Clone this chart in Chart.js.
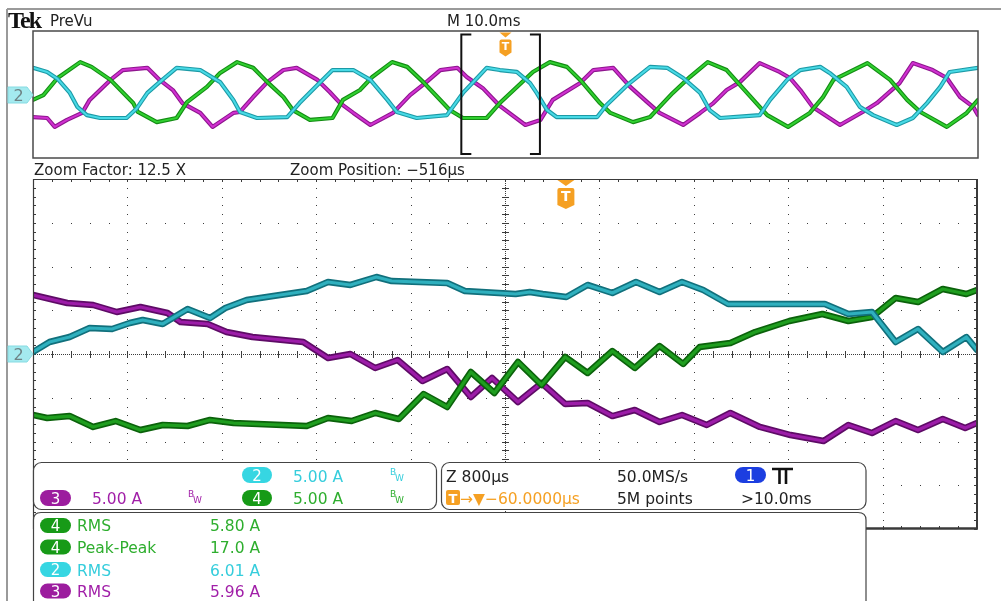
<!DOCTYPE html>
<html>
<head>
<meta charset="utf-8">
<title>Tek PreVu – phase currents</title>
<script src="https://cdn.jsdelivr.net/npm/chart.js@4.4.1/dist/chart.umd.min.js"></script>
<style>
  html, body { margin: 0; padding: 0; background: #fff; }
  #scope { position: relative; width: 1001px; height: 601px; overflow: hidden; background: #fff; }
  #scope canvas, #scope svg { position: absolute; left: 0; top: 0; }
  svg text { font-family: "DejaVu Sans", "Noto Sans", sans-serif; }
</style>
</head>
<body>
<div id="scope">
  <canvas id="preview" width="1001" height="601"></canvas>
  <canvas id="zoom" width="1001" height="601"></canvas>
  <svg id="chrome" width="1001" height="601" xmlns="http://www.w3.org/2000/svg">
    <!-- screen frame -->
    <line x1="7" y1="9" x2="1001" y2="9" stroke="#9a9a9a" stroke-width="2"/>
    <line x1="7" y1="9" x2="7" y2="601" stroke="#9a9a9a" stroke-width="2"/>

    <!-- header -->
    <text x="8" y="28" font-size="24" font-weight="bold" fill="#111" style="font-family:'Liberation Serif',serif" letter-spacing="-1.8">Tek</text>
    <text x="50" y="26" font-size="15" fill="#222">PreVu</text>
    <text x="447" y="26" font-size="15" fill="#222">M 10.0ms</text>

    <!-- channel 2 ground markers -->
    <path d="M8 87 H27 L33 95 L27 103 H8 Z" fill="#a4eaef" stroke="#86dbe2" stroke-width="1"/>
    <text x="18.5" y="101" font-size="16" fill="#6e8385" text-anchor="middle">2</text>
    <path d="M8 346 H27 L33 354 L27 362 H8 Z" fill="#a4eaef" stroke="#86dbe2" stroke-width="1"/>
    <text x="18.5" y="360" font-size="16" fill="#6e8385" text-anchor="middle">2</text>

    <!-- zoom readout -->
    <text x="34" y="175" font-size="15" fill="#222">Zoom Factor: 12.5 X</text>
    <text x="290" y="175" font-size="15" fill="#222">Zoom Position: −516µs</text>

    <!-- vertical settings -->
    <rect x="33.5" y="462.5" width="403" height="47" rx="8" fill="#fff" stroke="#444" stroke-width="1.2"/>
    <rect x="242" y="467" width="30" height="16" rx="8" fill="#36d6e2"/>
    <text x="257" y="481" font-size="15" fill="#fff" text-anchor="middle">2</text>
    <text x="293" y="482" font-size="15.5" fill="#35cddc">5.00 A</text>
    <text x="390" y="475" font-size="9" fill="#35cddc">B</text>
    <text x="395" y="481" font-size="9" fill="#35cddc">W</text>

    <rect x="40" y="490" width="31" height="16" rx="8" fill="#9c1c9e"/>
    <text x="55.5" y="504" font-size="15" fill="#fff" text-anchor="middle">3</text>
    <text x="92" y="504" font-size="15.5" fill="#a11fa8">5.00 A</text>
    <text x="188" y="497" font-size="9" fill="#a11fa8">B</text>
    <text x="193" y="503" font-size="9" fill="#a11fa8">W</text>

    <rect x="242" y="490" width="30" height="16" rx="8" fill="#179a17"/>
    <text x="257" y="504" font-size="15" fill="#fff" text-anchor="middle">4</text>
    <text x="293" y="504" font-size="15.5" fill="#2eae2e">5.00 A</text>
    <text x="390" y="497" font-size="9" fill="#2eae2e">B</text>
    <text x="395" y="503" font-size="9" fill="#2eae2e">W</text>

    <!-- horizontal / trigger settings -->
    <rect x="441.5" y="462.5" width="424.5" height="47" rx="8" fill="#fff" stroke="#444" stroke-width="1.2"/>
    <text x="446" y="482" font-size="15.5" fill="#222">Z 800µs</text>
    <text x="617" y="482" font-size="15.5" fill="#222">50.0MS/s</text>
    <rect x="735" y="467" width="31" height="16" rx="8" fill="#1c3ee0"/>
    <text x="750.5" y="481" font-size="15" fill="#fff" text-anchor="middle">1</text>
    <path d="M772 469 H793 M779.5 469 V484 M786 469 V484" stroke="#111" stroke-width="2.6" fill="none"/>
    <rect x="446" y="490" width="14" height="15" rx="2" fill="#f5a023"/>
    <text x="453" y="503" font-size="13" font-weight="bold" fill="#fff" text-anchor="middle">T</text>
    <text x="460" y="504" font-size="15.5" fill="#f5a023">→▼−60.0000µs</text>
    <text x="617" y="504" font-size="15.5" fill="#222">5M points</text>
    <text x="741" y="504" font-size="15.5" fill="#222">&gt;10.0ms</text>

    <!-- measurements -->
    <path d="M33.5 601 V520 Q33.5 512.5 41 512.5 H858 Q866 512.5 866 520 V601" fill="#fff" stroke="#444" stroke-width="1.2"/>
    <rect x="40" y="518" width="31" height="15" rx="7.5" fill="#179a17"/>
    <text x="55.5" y="531" font-size="15" fill="#fff" text-anchor="middle">4</text>
    <text x="77" y="531" font-size="15.5" fill="#2eae2e">RMS</text>
    <text x="210" y="531" font-size="15.5" fill="#2eae2e">5.80 A</text>

    <rect x="40" y="539.5" width="31" height="15" rx="7.5" fill="#179a17"/>
    <text x="55.5" y="552.5" font-size="15" fill="#fff" text-anchor="middle">4</text>
    <text x="77" y="553" font-size="15.5" fill="#2eae2e">Peak-Peak</text>
    <text x="210" y="553" font-size="15.5" fill="#2eae2e">17.0 A</text>

    <rect x="40" y="562" width="31" height="15" rx="7.5" fill="#36d6e2"/>
    <text x="55.5" y="575" font-size="15" fill="#fff" text-anchor="middle">2</text>
    <text x="77" y="575.5" font-size="15.5" fill="#35cddc">RMS</text>
    <text x="210" y="575.5" font-size="15.5" fill="#35cddc">6.01 A</text>

    <rect x="40" y="583.5" width="31" height="15" rx="7.5" fill="#9c1c9e"/>
    <text x="55.5" y="596.5" font-size="15" fill="#fff" text-anchor="middle">3</text>
    <text x="77" y="597" font-size="15.5" fill="#a11fa8">RMS</text>
    <text x="210" y="597" font-size="15.5" fill="#a11fa8">5.96 A</text>
  </svg>
</div>

<script>
// ---- acquisition settings ----
const recordMs = 100;          // M 10.0 ms/div, 10 divisions
const triggerAtMs = 50;        // trigger in the middle of the record
const zoomPositionMs = -0.516; // zoom centre relative to trigger
const zoomSpanMs = 8;          // Z 800 µs/div, 10 divisions
const ampsPerDiv = 5;          // all current channels at 5.00 A/div
const vDivs = 8, hDivs = 10;

// ---- preview record (time in ms from record start, current in A) ----
const pvTimeCh4 = [0, 1.1, 2.6, 5.0, 6.2, 8.2, 10.6, 11.1, 13.1, 15.2, 16.3, 18.4, 19.8, 21.6, 23.3, 24.8, 26.5, 27.5, 29.3, 31.7, 32.8, 34.6, 35.9, 38.0, 39.6, 41.3, 42.8, 44.1, 45.5, 48.0, 49.4, 52.9, 54.7, 56.5, 57.9, 60.0, 61.1, 63.5, 65.3, 66.3, 67.7, 69.5, 71.4, 73.4, 74.8, 76.9, 77.7, 79.9, 82.2, 83.6, 84.7, 88.3, 90.7, 92.5, 93.9, 96.7, 98.8, 100];
const pvCh4 = [-1.7, -0.2, 5.2, 10.2, 8.7, 4.6, -2.7, -5.5, -8.7, -7.4, -2.4, 2.4, 6.8, 10.2, 8.4, 3.9, -0.8, -4.9, -8.0, -7.4, -1.7, 1.4, 5.5, 10.2, 8.7, 3.9, -0.8, -4.9, -7.4, -7.4, -2.7, 7.1, 10.2, 8.7, 4.6, -2.7, -5.8, -8.7, -7.1, -3.9, 0.5, 5.5, 10.2, 7.7, 3.0, -3.9, -6.5, -10.2, -5.8, -0.8, 4.6, 9.9, 4.6, -1.7, -5.5, -10.2, -5.8, -1.7];

const pvTimeCh3 = [0, 1.5, 2.3, 3.6, 5.2, 6.0, 8.2, 9.5, 12.1, 13.4, 14.8, 15.8, 17.7, 19.0, 21.2, 21.9, 23.3, 24.8, 26.5, 27.9, 30.1, 31.4, 32.5, 33.9, 35.7, 38.1, 39.9, 41.5, 43.1, 44.9, 45.9, 47.6, 49.4, 52.1, 53.7, 55.0, 57.9, 59.3, 61.4, 63.2, 65.0, 66.3, 68.8, 70.6, 72.0, 73.4, 74.8, 76.9, 79.0, 80.1, 81.2, 82.5, 85.4, 87.8, 89.3, 91.7, 93.1, 95.2, 96.7, 98.1, 99.5, 100];
const pvCh3 = [-7.1, -7.4, -10.2, -8.0, -5.8, -1.7, 4.6, 7.7, 8.4, 4.6, 1.4, -2.7, -5.8, -10.2, -5.8, -5.5, -0.8, 3.9, 7.7, 8.4, 4.6, 0.8, -2.7, -5.8, -9.6, -5.8, -0.2, 3.6, 7.7, 8.4, 5.5, 2.0, -3.6, -9.6, -8.0, -1.7, 3.6, 7.7, 8.4, 2.4, -2.4, -5.8, -9.6, -5.8, -2.7, 1.4, 3.9, 9.9, 7.1, 5.2, 1.4, -3.9, -9.6, -5.5, -2.7, 3.6, 9.9, 7.7, 5.2, -0.8, -3.9, -6.5];

const pvTimeCh2 = [0, 1.5, 2.6, 3.9, 4.7, 5.7, 7.1, 9.9, 11.0, 12.1, 13.4, 15.2, 17.7, 19.8, 21.2, 21.9, 23.7, 26.9, 28.2, 30.1, 31.7, 33.9, 35.7, 37.5, 38.5, 40.6, 43.8, 45.5, 47.0, 48.0, 49.4, 51.2, 52.6, 53.3, 54.4, 55.4, 59.7, 60.7, 62.9, 65.3, 67.1, 68.8, 70.6, 71.6, 72.7, 76.9, 78.0, 79.8, 81.2, 83.3, 84.3, 86.1, 87.5, 88.9, 91.4, 93.1, 94.6, 96.0, 97.0, 100];
const pvCh2 = [8.4, 7.1, 4.9, 0.5, -3.9, -6.5, -7.4, -7.4, -4.3, 0.5, 3.9, 8.4, 7.7, 3.9, -1.7, -5.5, -7.4, -7.1, -2.7, 3.0, 7.7, 7.7, 4.6, -1.7, -5.5, -7.4, -6.5, 0.5, 5.2, 8.4, 7.7, 7.1, 3.6, 0.5, -4.9, -7.1, -7.1, -3.3, 3.0, 8.7, 8.4, 5.2, 0.5, -4.9, -7.4, -6.5, -1.7, 4.6, 7.7, 8.7, 6.8, 2.4, -3.9, -6.5, -9.6, -7.4, -2.7, 2.4, 7.1, 8.4];

// ---- zoom window (time in ms from window start, current in A) ----
const zmTimeCh3 = [0, 0.29, 0.51, 0.71, 0.91, 1.14, 1.25, 1.48, 1.64, 1.86, 2.29, 2.50, 2.69, 2.90, 3.09, 3.30, 3.51, 3.71, 3.89, 4.11, 4.31, 4.51, 4.70, 4.91, 5.10, 5.31, 5.50, 5.71, 5.91, 6.16, 6.42, 6.70, 6.91, 7.11, 7.31, 7.50, 7.71, 7.90, 8.00];
const zmCh3 = [6.74, 5.83, 5.6, 4.8, 5.37, 4.69, 3.66, 3.43, 2.51, 1.94, 1.37, -0.46, 0, -1.6, -0.69, -3.09, -1.71, -4.91, -2.74, -5.49, -3.31, -5.71, -5.6, -7.09, -6.4, -7.77, -6.97, -8.11, -6.74, -8.34, -9.26, -9.94, -8.11, -9.03, -7.66, -8.69, -7.43, -8.46, -7.89];

const zmTimeCh4 = [0, 0.12, 0.31, 0.51, 0.70, 0.91, 1.10, 1.31, 1.50, 1.70, 2.32, 2.50, 2.70, 2.90, 3.10, 3.31, 3.51, 3.71, 3.91, 4.11, 4.31, 4.51, 4.70, 4.91, 5.10, 5.31, 5.51, 5.65, 5.91, 6.12, 6.41, 6.69, 6.91, 7.11, 7.31, 7.50, 7.71, 7.91, 8.00];
const zmCh4 = [-6.97, -7.31, -7.09, -8.34, -7.66, -8.69, -8.11, -8.23, -7.54, -7.89, -8.23, -7.31, -7.66, -6.74, -7.43, -4.57, -6.06, -2.06, -4.46, -0.91, -3.54, -0.34, -2.17, 0.34, -1.6, 0.91, -1.14, 0.8, 1.26, 2.51, 3.77, 4.57, 3.77, 4.23, 6.4, 5.94, 7.43, 6.86, 7.31];

const zmTimeCh2 = [0, 0.14, 0.31, 0.48, 0.67, 0.82, 0.93, 1.10, 1.31, 1.50, 1.63, 1.81, 2.32, 2.50, 2.69, 2.91, 3.04, 3.51, 3.66, 4.09, 4.21, 4.32, 4.52, 4.70, 4.91, 5.11, 5.31, 5.50, 5.68, 5.89, 6.71, 6.91, 7.11, 7.31, 7.50, 7.71, 7.91, 8.00];
const zmCh2 = [0.23, 1.37, 1.94, 2.97, 2.86, 3.54, 3.89, 3.43, 5.14, 4.11, 5.26, 6.17, 7.2, 8.23, 7.89, 8.8, 8.34, 8.11, 7.2, 6.86, 7.09, 6.86, 6.51, 7.89, 6.97, 8.23, 7.09, 8.23, 7.31, 5.71, 5.71, 4.57, 4.8, 1.37, 2.86, 0.23, 1.94, 0.46];

// ---- drawing helpers ----
const TRIGGER_ORANGE = '#f5a023';
const fullScale = ampsPerDiv * vDivs / 2;

function zip(ts, vs) { return ts.map((t, i) => ({ x: t, y: vs[i] })); }

// each channel is drawn as a dark halo plus a bright core, like a phosphor trace
function traceSets(channels, haloW, coreW) {
  const sets = [];
  channels.forEach((c, i) => {
    const pts = zip(c.t, c.v);
    const base = 2 * (channels.length - i);
    sets.push({ data: pts, borderColor: c.halo, borderWidth: haloW, order: base,
                borderJoinStyle: 'round', borderCapStyle: 'round' });
    sets.push({ data: pts, borderColor: c.core, borderWidth: coreW, order: base - 1,
                borderJoinStyle: 'round', borderCapStyle: 'round' });
  });
  return sets;
}

function drawTriggerFlag(ctx, x, top, w, triH, badgeH, fontPx) {
  ctx.save();
  ctx.fillStyle = TRIGGER_ORANGE;
  ctx.beginPath();
  ctx.moveTo(x - w / 2, top); ctx.lineTo(x + w / 2, top); ctx.lineTo(x, top + triH);
  ctx.closePath(); ctx.fill();
  const y0 = top + triH + 2, y1 = y0 + badgeH;
  ctx.beginPath();
  ctx.moveTo(x - w / 2 + 2, y0); ctx.lineTo(x + w / 2 - 2, y0);
  ctx.quadraticCurveTo(x + w / 2, y0, x + w / 2, y0 + 2);
  ctx.lineTo(x + w / 2, y1 - 4); ctx.lineTo(x, y1); ctx.lineTo(x - w / 2, y1 - 4);
  ctx.lineTo(x - w / 2, y0 + 2);
  ctx.quadraticCurveTo(x - w / 2, y0, x - w / 2 + 2, y0);
  ctx.fill();
  ctx.fillStyle = '#fff';
  ctx.font = 'bold ' + fontPx + 'px "DejaVu Sans", sans-serif';
  ctx.textAlign = 'center'; ctx.textBaseline = 'middle';
  ctx.fillText('T', x, y0 + badgeH / 2 - 1);
  ctx.restore();
}

// graticule of the zoom window: dotted divisions, ticked centre axes
const graticule = {
  id: 'graticule',
  beforeDatasetsDraw(chart) {
    const { ctx, chartArea: a, scales: { x, y } } = chart;
    const px = i => x.getPixelForValue(x.min + (x.max - x.min) * i / hDivs);
    const py = j => y.getPixelForValue(y.max - (y.max - y.min) * j / vDivs);
    const w = a.right - a.left, h = a.bottom - a.top;
    const mx = w / (hDivs * 5), my = h / (vDivs * 5);
    const dot = (u, v) => ctx.fillRect(Math.round(u), Math.round(v), 1, 1);
    ctx.save();
    ctx.fillStyle = '#3c3c3c';
    for (let i = 1; i < hDivs; i++) {
      if (i === hDivs / 2) continue;
      const gx = px(i);
      for (let k = 0; k <= vDivs * 5; k++) dot(gx, a.top + k * my);
    }
    for (let j = 1; j < vDivs; j++) {
      if (j === vDivs / 2) continue;
      const gy = py(j);
      for (let k = 0; k <= hDivs * 5; k++) dot(a.left + k * mx, gy);
    }
    const cx = px(hDivs / 2), cy = py(vDivs / 2);
    for (let u = a.left; u <= a.right; u += 2) dot(u, cy);
    for (let v = a.top; v <= a.bottom; v += 2) dot(cx, v);
    for (let k = 0; k <= hDivs * 5; k++) {
      const u = Math.round(a.left + k * mx);
      ctx.fillRect(u, Math.round(cy) - 3, 1, 7);
      ctx.fillRect(u, Math.round(a.top), 1, 3);
      ctx.fillRect(u, Math.round(a.bottom) - 3, 1, 3);
    }
    for (let k = 0; k <= vDivs * 5; k++) {
      const v = Math.round(a.top + k * my);
      ctx.fillRect(Math.round(cx) - 3, v, 7, 1);
      ctx.fillRect(Math.round(a.left), v, 3, 1);
      ctx.fillRect(Math.round(a.right) - 3, v, 3, 1);
    }
    ctx.restore();
  },
  afterDatasetsDraw(chart) {
    const { ctx, chartArea: a, scales: { x } } = chart;
    ctx.save();
    ctx.strokeStyle = '#3a3a3a';
    ctx.lineWidth = 1.2;
    ctx.beginPath();
    ctx.moveTo(a.left + 0.5, a.bottom); ctx.lineTo(a.left + 0.5, a.top + 0.5); ctx.lineTo(a.right, a.top + 0.5);
    ctx.stroke();
    ctx.lineWidth = 2;
    ctx.beginPath();
    ctx.moveTo(a.right, a.top); ctx.lineTo(a.right, a.bottom);
    ctx.stroke();
    ctx.lineWidth = 2.5;
    ctx.beginPath();
    ctx.moveTo(866, a.bottom - 0.5); ctx.lineTo(a.right + 1, a.bottom - 0.5);
    ctx.stroke();
    ctx.restore();
    // trigger point inside the zoom window
    const trigInWindow = zoomSpanMs / 2 - zoomPositionMs;
    drawTriggerFlag(ctx, x.getPixelForValue(trigInWindow), a.top + 1, 17, 6, 21, 14);
  }
};

// preview frame, zoom bracket and trigger flag
const previewDecor = {
  id: 'previewDecor',
  afterDatasetsDraw(chart) {
    const { ctx, chartArea: a, scales: { x } } = chart;
    ctx.save();
    ctx.strokeStyle = '#4a4a4a';
    ctx.lineWidth = 1.5;
    ctx.strokeRect(a.left, a.top, a.right - a.left, a.bottom - a.top);
    const z0 = x.getPixelForValue(triggerAtMs + zoomPositionMs - zoomSpanMs / 2) - 1.5;
    const z1 = x.getPixelForValue(triggerAtMs + zoomPositionMs + zoomSpanMs / 2) + 1.5;
    const t = a.top + 3.5, b = a.bottom - 4;
    ctx.strokeStyle = '#111';
    ctx.lineWidth = 2;
    ctx.beginPath();
    ctx.moveTo(z0 + 10, t); ctx.lineTo(z0, t); ctx.lineTo(z0, b); ctx.lineTo(z0 + 10, b);
    ctx.moveTo(z1 - 10, t); ctx.lineTo(z1, t); ctx.lineTo(z1, b); ctx.lineTo(z1 - 10, b);
    ctx.stroke();
    ctx.restore();
    drawTriggerFlag(ctx, x.getPixelForValue(triggerAtMs), a.top + 1.5, 12, 5, 17, 11);
  }
};

function scopeChart(id, datasets, xRange, padding, plugin) {
  return new Chart(document.getElementById(id), {
    type: 'line',
    data: { datasets },
    options: {
      responsive: false, animation: false, devicePixelRatio: 1,
      parsing: false, normalized: true,
      layout: { padding },
      elements: { point: { radius: 0 }, line: { tension: 0 } },
      plugins: { legend: { display: false }, tooltip: { enabled: false } },
      events: [],
      scales: {
        x: { type: 'linear', display: false, min: xRange[0], max: xRange[1] },
        y: { type: 'linear', display: false, min: -fullScale, max: fullScale }
      }
    },
    plugins: [plugin]
  });
}

scopeChart('preview', traceSets([
  { t: pvTimeCh3, v: pvCh3, halo: '#8e168e', core: '#d030d0' },
  { t: pvTimeCh4, v: pvCh4, halo: '#138c13', core: '#30d030' },
  { t: pvTimeCh2, v: pvCh2, halo: '#1c9aa6', core: '#48dae6' }
], 4.2, 2), [0, recordMs], { left: 33, right: 23, top: 31, bottom: 443 }, previewDecor);

scopeChart('zoom', traceSets([
  { t: zmTimeCh3, v: zmCh3, halo: '#5e0b66', core: '#9c1ca8' },
  { t: zmTimeCh4, v: zmCh4, halo: '#0b620b', core: '#1f9e1f' },
  { t: zmTimeCh2, v: zmCh2, halo: '#11707c', core: '#2fb0be' }
], 6.5, 3.2), [0, zoomSpanMs], { left: 33, right: 24, top: 179, bottom: 72 }, graticule);
</script>
</body>
</html>
